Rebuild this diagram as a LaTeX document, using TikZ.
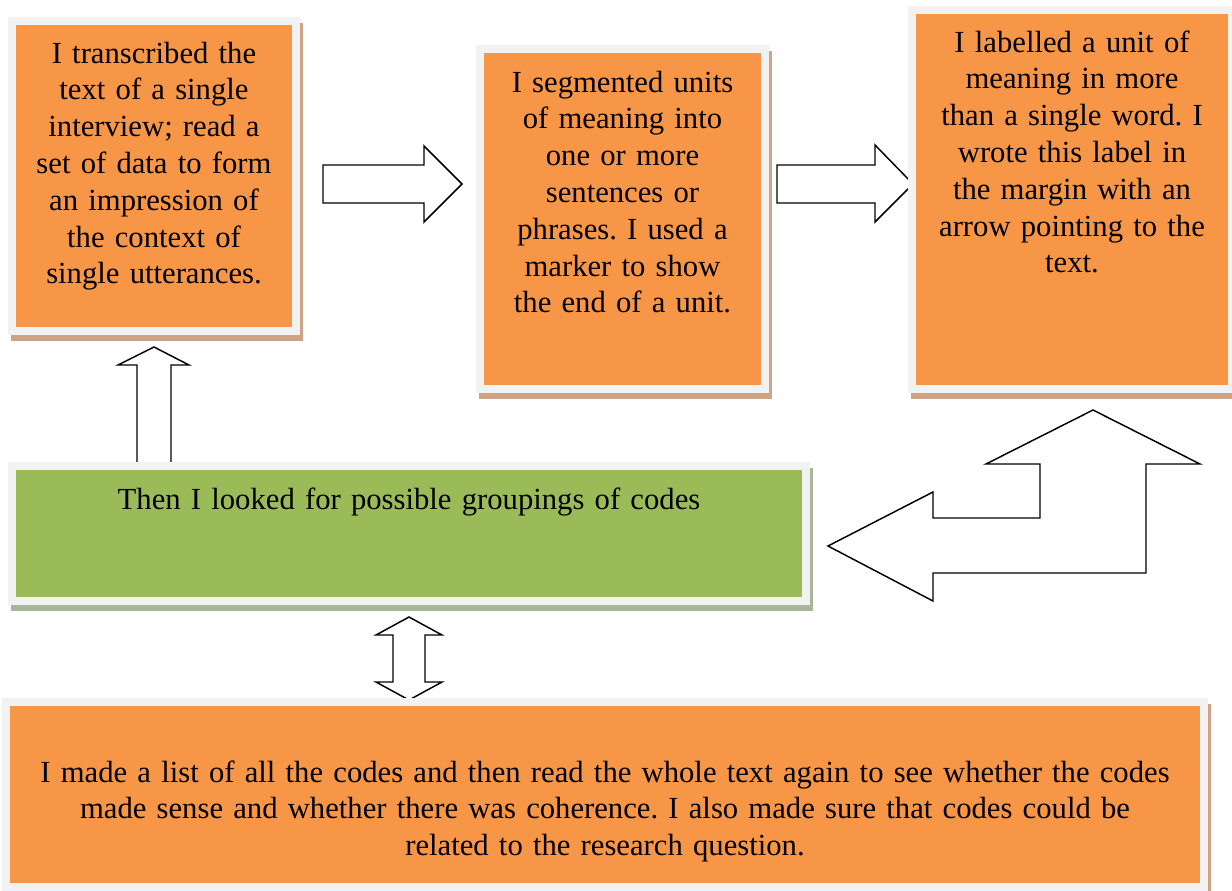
\documentclass[tikz,border=0pt]{standalone}
\usepackage{fontspec}
\setmainfont{Liberation Serif}
\frenchspacing
\definecolor{boxorange}{HTML}{F79646}
\definecolor{boxgreen}{HTML}{9BBB59}
\definecolor{framegray}{HTML}{F2F2F2}
\definecolor{orangeshadow}{HTML}{CFA486}
\definecolor{greenshadow}{HTML}{AAB69A}
\begin{document}
\begin{tikzpicture}[x=0.75pt,y=-0.75pt,
	stepbox/.style={draw=framegray, line width=6pt, inner sep=0pt},
	orangebox/.style={stepbox, fill=boxorange, preaction={draw=orangeshadow, fill=orangeshadow, line width=6pt, transform canvas={xshift=2.25pt, yshift=-4.5pt}}},
	greenbox/.style={stepbox, fill=boxgreen, preaction={draw=greenshadow, fill=greenshadow, line width=6pt, transform canvas={xshift=2.25pt, yshift=-4.5pt}}},
	steptext/.style={text width=#1, align=center, inner sep=0pt, anchor=base, font=\fontsize{23}{27.6}\selectfont},
	blockarrow/.style={draw=black, fill=white, line width=1.1pt, line join=miter}]
	\useasboundingbox (0,0) rectangle (1232,890);
	% block arrows
	\draw[blockarrow] (323,165) -- (424,165) -- (424,146) -- (462,184) -- (424,222) -- (424,203) -- (323,203) -- cycle;
	\draw[blockarrow] (777,165) -- (875,165) -- (875,145) -- (913,184) -- (875,222) -- (875,203) -- (777,203) -- cycle;
	\draw[blockarrow] (137,470) -- (137,365) -- (118,365) -- (154,347) -- (189,365) -- (171,365) -- (171,470) -- cycle;
	\draw[blockarrow] (409,617) -- (442,635) -- (425,635) -- (425,682) -- (442,682) -- (409,700) -- (376,682) -- (393,682) -- (393,635) -- (376,635) -- cycle;
	\draw[blockarrow] (828,546) -- (933,492) -- (933,518) -- (1040,518) -- (1040,464) -- (986,464) -- (1093,410) -- (1200,464) -- (1146,464) -- (1146,573) -- (933,573) -- (933,601) -- cycle;
	% boxes
	\node (transcribe) at (154,176)    [orangebox, minimum width=213pt, minimum height=232.5pt]	{};
	\node (segment)    at (622.5,219)  [orangebox, minimum width=213.75pt, minimum height=255pt]	{};
	\node (label)      at (1072,199.5) [orangebox, minimum width=240pt, minimum height=284.25pt]	{};
	\node (group)      at (409,533.5)  [greenbox, minimum width=595.5pt, minimum height=101.25pt]	{};
	\node (review)     at (605,794.5)  [orangebox, minimum width=898.5pt, minimum height=138.75pt]	{};
	% texts
	\node (transcribe text) at (154,63)   [steptext=220pt]	{I transcribed the\\ text of a single\\ interview; read a\\ set of data to form\\ an impression of\\ the context of\\ single utterances.};
	\node (segment text)    at (622.5,92) [steptext=220pt]	{I segmented units\\ of meaning into\\ one or more\\ sentences or\\ phrases. I used a\\ marker to show\\ the end of a unit.};
	\node (label text)      at (1072,52)  [steptext=240pt]	{I labelled a unit of\\ meaning in more\\ than a single word. I\\ wrote this label in\\ the margin with an\\ arrow pointing to the\\ text.};
	\node (group text)      at (409,509)  [steptext=580pt]	{Then I looked for possible groupings of codes};
	\node (review text)     at (605,782)  [steptext=880pt]	{I made a list of all the codes and then read the whole text again to see whether the codes\\ made sense and whether there was coherence. I also made sure that codes could be\\ related to the research question.};
\end{tikzpicture}
\end{document}
